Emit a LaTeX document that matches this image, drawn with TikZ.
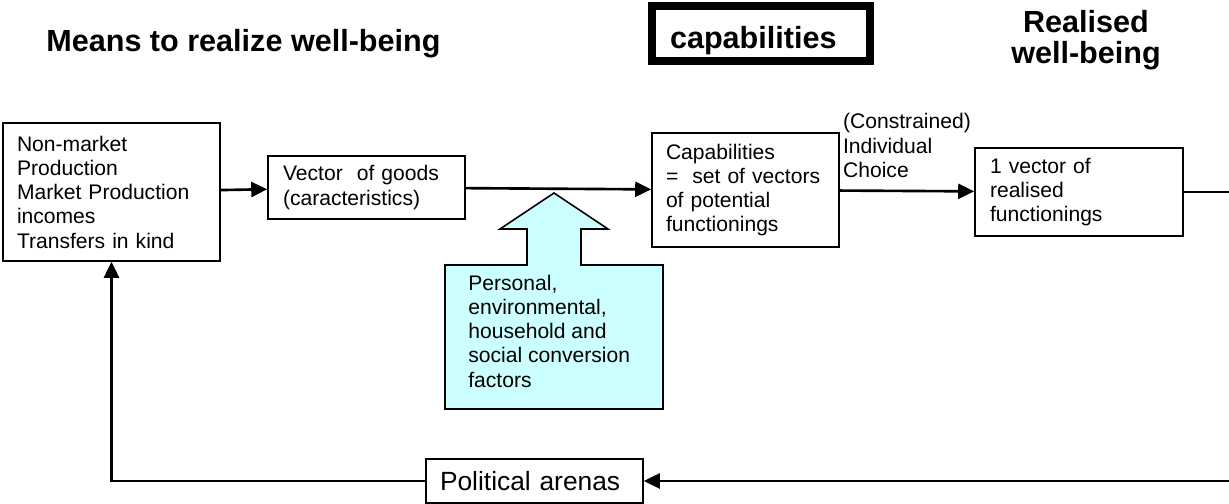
\documentclass[tikz,border=0pt]{standalone}
\usepackage{fontspec}
\setmainfont{Liberation Sans}
\usetikzlibrary{arrows.meta}
\definecolor{factorcyan}{HTML}{CCFFFF}
\tikzset{
  box/.style={draw, line width=0.9pt, align=left, inner xsep=0.28cm, inner ysep=0pt,
    font=\fontsize{12}{13.8}\selectfont},
  heading/.style={font=\fontsize{17.4}{17.8}\selectfont\bfseries},
  link/.style={-{Triangle[length=0.32cm,width=0.3cm]}, line width=1.5pt}
}

\begin{document}
\begin{tikzpicture}
    \useasboundingbox (0,0) rectangle (24.58,10.08);
    \clip (0,0) rectangle (24.58,10.08);
    \node[heading, anchor=base west, inner sep=0] (meanstitle) at (0.92,9.04) {Means to realize well-being};
    \node[heading, draw, line width=0.16cm, minimum width=4.36cm, minimum height=1.1cm,
      text width=3.64cm, text height=0.72cm, inner xsep=0.36cm, align=left] (captitle) at (15.22,9.41) {capabilities};
    \node[heading, align=center, inner sep=0] (realtitle) at (21.72,9.28) {Realised\\well-being};
    \node[box, text width=3.78cm, minimum height=2.76cm] (means) at (2.23,6.24)
      {Non-market\\Production\\Market Production\\incomes\\Transfers in kind};
    \node[box, text width=3.34cm, minimum height=1.26cm, inner xsep=0.3cm] (goods) at (7.33,6.33)
      {Vector \ of goods\\(caracteristics)};
    \node[box, text width=3.18cm, minimum height=2.28cm] (capab) at (14.91,6.28)
      {Capabilities\\= \ set of vectors\\of potential\\functionings};
    \node[box, text width=3.56cm, minimum height=1.76cm, inner xsep=0.3cm] (real) at (21.58,6.24)
      {1 vector of\\realised\\functionings};
    \node[box, text width=3.78cm, minimum height=0.88cm, font=\fontsize{15}{17}\selectfont] (arena) at (10.69,0.46)
      {Political arenas};
    \coordinate (edgeT) at (24.9,6.24);
    \coordinate (edgeB) at (24.9,0.46);
    \draw[line width=0.9pt, fill=factorcyan] (8.90,1.90) -- (8.90,4.78) -- (10.54,4.78) -- (10.54,5.50)
      -- (10.00,5.50) -- (11.08,6.22) -- (12.16,5.50) -- (11.62,5.50) -- (11.62,4.78)
      -- (13.26,4.78) -- (13.26,1.90) -- cycle;
    \node[anchor=west, align=left, inner sep=0, font=\fontsize{12}{13.8}\selectfont] (factors) at (9.36,3.46)
      {Personal,\\environmental,\\household and\\social conversion\\factors};
    \draw[link] (means) to (goods);
    \draw[link] (goods) to (capab);
    \draw[link] (capab) to node[above=0.24cm, align=left, inner sep=0, font=\fontsize{12}{13.8}\selectfont]
      {(Constrained)\\Individual\\Choice} (real);
    \draw[link] (real.east) -- (edgeT) -- (edgeB) -- (arena.east);
    \draw[link] (arena.west) -| (means.south);
\end{tikzpicture}
\end{document}
